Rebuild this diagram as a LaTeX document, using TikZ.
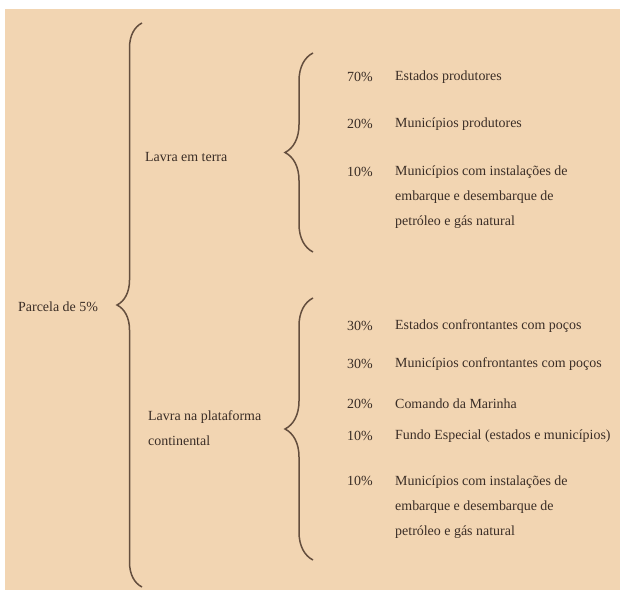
\documentclass[tikz,border=0pt]{standalone}
\usepackage{fontspec}
\setmainfont{Liberation Serif}
\usetikzlibrary{decorations.pathreplacing}
\definecolor{peach}{RGB}{242,213,178}
\definecolor{inkbrown}{RGB}{58,45,38}
\definecolor{bracebrown}{RGB}{100,78,62}
\tikzset{
  pct/.style={anchor=west, inner sep=0pt, text=inkbrown, font=\fontsize{14}{25}\selectfont},
  item/.style={pct, align=left},
  head/.style={pct, align=left},
  bigbrace/.style={draw=bracebrown, line width=1.5bp, decorate, decoration={brace, amplitude=25bp}},
  subbrace/.style={bigbrace, decoration={brace, amplitude=28bp}}
}
\begin{document}
\begin{tikzpicture}[x=1bp, y=-1bp]
  % Page and background
  \useasboundingbox (0,0) rectangle (620,595);
  \fill[white] (0,0) rectangle (620,595);
  \fill[peach] (5,9) rectangle (620,590);
  % Draw the headings
  \node[head] (parcela) at (18,307) {Parcela de 5\%};
  \node[head] (terra) at (145,157) {Lavra em terra};
  \node[head] (plat) at (148,428) {Lavra na plataforma\\continental};
  % Brace end points
  \coordinate (bigTop) at (142,23);
  \coordinate (bigBot) at (142,587);
  \coordinate (terraTop) at (313,53);
  \coordinate (terraBot) at (313,252);
  \coordinate (platTop) at (313,298);
  \coordinate (platBot) at (313,560);
  % Draw the braces
  \draw[bigbrace] (bigBot) -- (bigTop);
  \draw[subbrace] (terraBot) -- (terraTop);
  \draw[subbrace] (platBot) -- (platTop);
  % Shares, lavra em terra
  \node[pct] (t70) at (347,77) {70\%};
  \node[item] (t70t) at (395,77) {Estados produtores};
  \node[pct] (t20) at (347,124) {20\%};
  \node[item] (t20t) at (395,124) {Municípios produtores};
  \node[pct] (t10) at (347,172) {10\%};
  \node[item] (t10t) at (395,197) {Municípios com instalações de\\embarque e desembarque de\\petróleo e gás natural};
  % Shares, lavra na plataforma continental
  \node[pct] (p30a) at (347,326) {30\%};
  \node[item] (p30at) at (395,326) {Estados confrontantes com poços};
  \node[pct] (p30b) at (347,364) {30\%};
  \node[item] (p30bt) at (395,364) {Municípios confrontantes com poços};
  \node[pct] (p20) at (347,404) {20\%};
  \node[item] (p20t) at (395,404) {Comando da Marinha};
  \node[pct] (p10a) at (347,436) {10\%};
  \node[item] (p10at) at (395,436) {Fundo Especial (estados e municípios)};
  \node[pct] (p10b) at (347,481) {10\%};
  \node[item] (p10bt) at (395,507) {Municípios com instalações de\\embarque e desembarque de\\petróleo e gás natural};
\end{tikzpicture}
\end{document}
